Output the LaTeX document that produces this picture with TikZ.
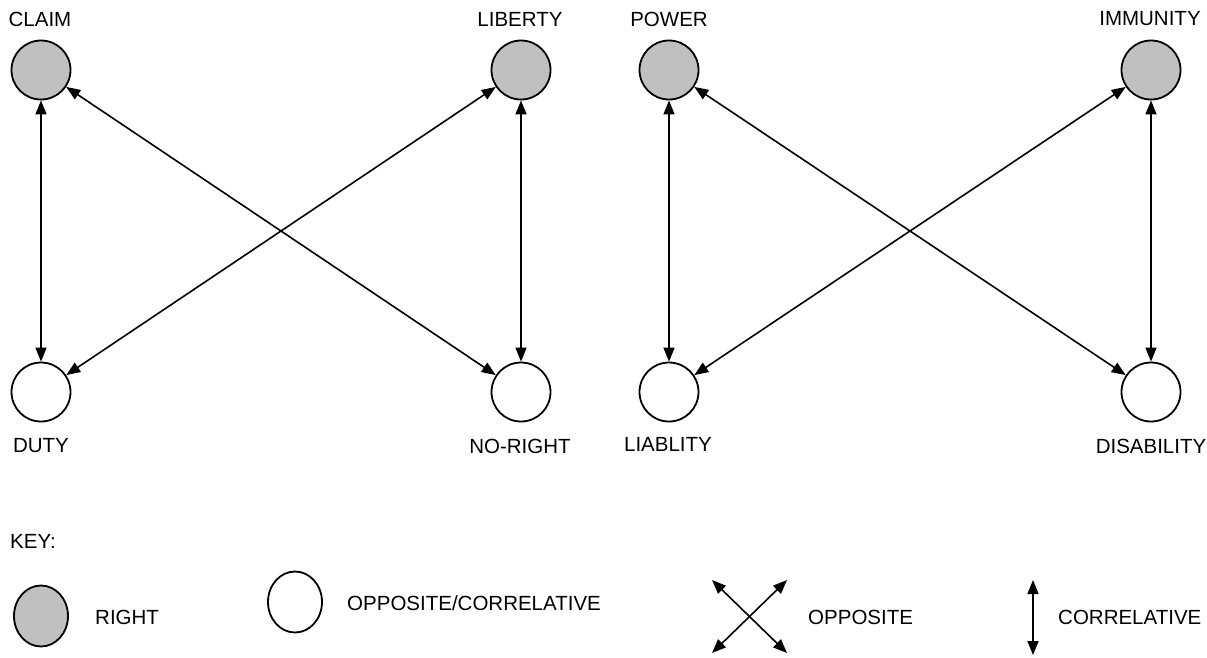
\documentclass[tikz,border=0pt]{standalone}
\usepackage{fontspec}
\setmainfont{Liberation Sans}
\usetikzlibrary{arrows.meta,shapes.geometric}
\definecolor{rightgray}{RGB}{192,192,192}
\begin{document}
\begin{tikzpicture}[x=1pt,y=-1pt,
  lbl/.style={font=\fontsize{20.5}{23}\selectfont, inner sep=0pt},
  rnode/.style={circle, draw, line width=1.8pt, fill=rightgray, minimum size=59pt, inner sep=0pt},
  onode/.style={circle, draw, line width=1.8pt, fill=white, minimum size=59pt, inner sep=0pt},
  rkey/.style={ellipse, draw, line width=1.8pt, fill=rightgray, minimum width=54pt, minimum height=61pt, inner sep=0pt},
  okey/.style={ellipse, draw, line width=1.8pt, fill=white, minimum width=54pt, minimum height=61pt, inner sep=0pt},
  con/.style={line width=1.6pt, {Triangle[length=14pt,width=11pt]}-{Triangle[length=14pt,width=11pt]}}
]
\useasboundingbox (0,0) rectangle (1207,657);

% nodes
\node[rnode] (claim) at (41,70) {};
\node[rnode] (liberty) at (521,70) {};
\node[onode] (duty) at (41,392) {};
\node[onode] (noright) at (521,392) {};
\node[rnode] (power) at (669,70) {};
\node[rnode] (immunity) at (1151,70) {};
\node[onode] (liability) at (669,392) {};
\node[onode] (disability) at (1151,392) {};

% labels
\node[lbl] (tclaim) at (40,19) {CLAIM};
\node[lbl] (tliberty) at (520,19) {LIBERTY};
\node[lbl] (tpower) at (669,19) {POWER};
\node[lbl] (timmunity) at (1150,19) {IMMUNITY};
\node[lbl] (tduty) at (41,446) {DUTY};
\node[lbl] (tnoright) at (520,446) {NO-RIGHT};
\node[lbl] (tliability) at (668,444) {LIABLITY};
\node[lbl] (tdisability) at (1151,446) {DISABILITY};

% connectors
\draw[con] (claim) -- (duty);
\draw[con] (liberty) -- (noright);
\draw[con] (claim) -- (noright);
\draw[con] (liberty) -- (duty);
\draw[con] (power) -- (liability);
\draw[con] (immunity) -- (disability);
\draw[con] (power) -- (disability);
\draw[con] (immunity) -- (liability);

% key
\node[lbl, anchor=west] (key) at (10,541) {KEY:};
\node[rkey] (krightshape) at (41,616) {};
\node[lbl, anchor=west] (kright) at (95,617) {RIGHT};
\node[okey] (koppshape) at (295,602) {};
\node[lbl, anchor=west] (kopp) at (347,603) {OPPOSITE/CORRELATIVE};

\coordinate (xa) at (712,580);
\coordinate (xb) at (787,653);
\coordinate (xc) at (787,580);
\coordinate (xd) at (712,653);
\draw[con] (xa) -- (xb);
\draw[con] (xc) -- (xd);
\node[lbl, anchor=west] (kopposite) at (808,617) {OPPOSITE};

\coordinate (ca) at (1033,580);
\coordinate (cb) at (1033,655);
\draw[con] (ca) -- (cb);
\node[lbl, anchor=west] (kcorr) at (1058,617) {CORRELATIVE};
\end{tikzpicture}
\end{document}
